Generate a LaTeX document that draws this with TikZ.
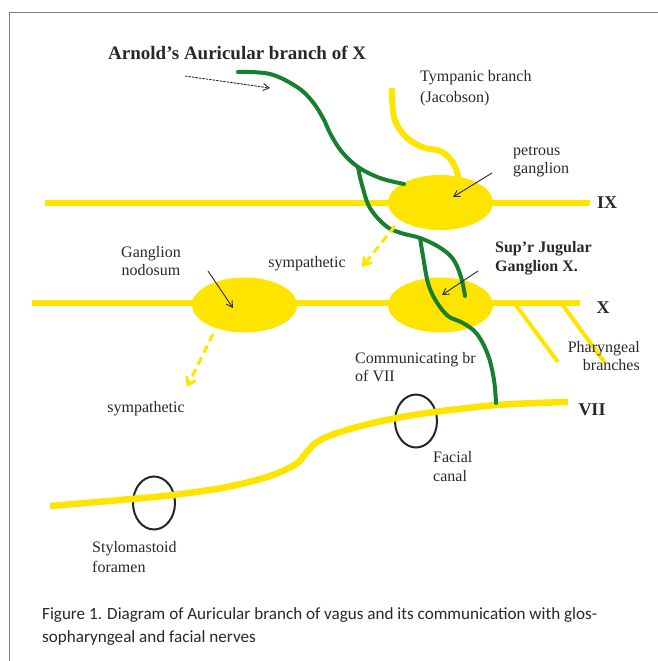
\documentclass[tikz,border=0pt]{standalone}
\usepackage{fontspec}
\setmainfont{Liberation Serif}
\newfontfamily\capfont{Carlito}
\usetikzlibrary{arrows.meta,shapes.geometric}

\definecolor{nerveyellow}{RGB}{255,228,0}
\definecolor{nervegreen}{RGB}{22,128,48}
\definecolor{inkgray}{RGB}{40,40,40}
\definecolor{framegray}{RGB}{125,125,125}

\tikzset{
  nerve/.style={draw=nerveyellow,line width=6pt},
  twig/.style={draw=nerveyellow,line width=4pt},
  vagal/.style={draw=nervegreen,line width=4pt,line cap=round},
  ganglion/.style={ellipse,fill=nerveyellow,inner sep=0pt,
    minimum width=105pt,minimum height=55pt},
  foramen/.style={ellipse,draw=black!85,line width=2pt,inner sep=0pt,
    minimum width=42pt,minimum height=53pt},
  pointer/.style={draw=inkgray,line width=0.9pt,
    -{Straight Barb[length=6pt,width=7pt]}},
  symp/.style={draw=nerveyellow,line width=3pt,dash pattern=on 8pt off 5pt,
    -{Straight Barb[length=7pt,width=10pt,line width=3pt]}},
  lbl/.style={text=inkgray,inner sep=0pt,font=\fontsize{16}{18}\selectfont},
  blbl/.style={lbl,font=\fontsize{16}{19}\selectfont\bfseries},
  nlbl/.style={text=inkgray,inner sep=0pt,font=\fontsize{18}{18}\selectfont\bfseries},
}

\begin{document}
\begin{tikzpicture}[x=1pt,y=-1pt]
\useasboundingbox (0,0) rectangle (658,661);

% open frame: top and left rules
\coordinate (frTL) at (9,13);
\coordinate (frTR) at (658,13);
\coordinate (frBL) at (9,661);
\draw[framegray,line width=1pt] (frTR) -- (frTL) -- (frBL);

% ---------- yellow nerve trunks ----------
\coordinate (ixL) at (45,203);
\coordinate (ixR) at (590,203);
\draw[nerve] (ixL) -- (ixR);

\coordinate (xL) at (32,303);
\coordinate (xR) at (580,303);
\draw[nerve] (xL) -- (xR);

% pharyngeal branches
\coordinate (ph1a) at (515,304);
\coordinate (ph1b) at (558,362);
\coordinate (ph2a) at (562,304);
\coordinate (ph2b) at (605,363);
\draw[twig] (ph1a) -- (ph1b);
\draw[twig] (ph2a) -- (ph2b);

% tympanic branch (Jacobson)
\coordinate (tymS) at (392,88);
\coordinate (tymE) at (458,182);
\draw[nerve] plot[smooth,tension=0.6] coordinates
  {(tymS) (394,117) (405,136) (422,147) (440,151) (451,160) (457,172) (tymE)};

% ---------- ganglia ----------
\node[ganglion] (petrous) at (440.5,202.5) {};
\node[ganglion] (nodosum) at (244.5,305) {};
\node[ganglion] (jugular) at (440.5,305) {};

% ---------- canal outlines, under the facial nerve ----------
\node[foramen] (canal) at (416,421) {};
\node[foramen] (stylo) at (154,503) {};

% facial nerve (VII)
\coordinate (viiL) at (50,506);
\coordinate (viiR) at (568,402);
\draw[nerve,line width=6.5pt] plot[smooth,tension=0.55] coordinates
  {(viiL) (120,500) (173,495) (227,487) (270,476) (296,464) (306,453)
   (317,442) (337,433) (373,423) (420,414) (497,405) (viiR)};

% ---------- auricular branch of the vagus (green) ----------
\coordinate (arnS) at (238,72);
\coordinate (split) at (358,167);
\coordinate (loop) at (420,238);
\coordinate (jugE) at (465,296);
\coordinate (viiJ) at (496,403);
\draw[vagal] plot[smooth,tension=0.6] coordinates
  {(arnS) (270,74) (297,87) (312,101) (323,118) (331,135) (342,152)
   (split) (380,178) (404,184)};
\draw[vagal] plot[smooth,tension=0.6] coordinates
  {(split) (362,185) (370,208) (386,226) (401,233) (loop) (439,247)
   (453,259) (461,277) (jugE)};
\draw[vagal] plot[smooth,tension=0.6] coordinates
  {(loop) (423,256) (428,283) (436,301) (448,316) (463,323) (477,334)
   (488,355) (494,380) (viiJ)};

% ---------- sympathetic branches ----------
\coordinate (sy1a) at (395,226);
\coordinate (sy1b) at (362,267);
\draw[symp] (sy1a) -- (sy1b);
\coordinate (sy2a) at (213,334);
\coordinate (sy2b) at (187,387);
\draw[symp] (sy2a) -- (sy2b);

% ---------- pointers ----------
\coordinate (arnP) at (185,76);
\coordinate (arnQ) at (270,88);
\draw[pointer,dash pattern=on 2.5pt off 1pt] (arnP) -- (arnQ);
\coordinate (petP) at (492,173);
\coordinate (petQ) at (453,197);
\draw[pointer] (petP) -- (petQ);
\coordinate (jugP) at (478,271);
\coordinate (jugQ) at (442,295);
\draw[pointer] (jugP) -- (jugQ);
\coordinate (nodP) at (208,271);
\coordinate (nodQ) at (233,308);
\draw[pointer] (nodP) -- (nodQ);

% ---------- labels ----------
\node[text=inkgray,inner sep=0pt,anchor=west,
  font=\fontsize{19}{19}\selectfont\bfseries] (title) at (108,53)
  {Arnold’s Auricular branch of X};
\node[lbl,anchor=west,align=left,font=\fontsize{16}{21}\selectfont]
  (tymL) at (420,88) {Tympanic branch\\(Jacobson)};
\node[lbl,anchor=west,align=left] (petL) at (513,162) {petrous\\ganglion};
\node[blbl,anchor=west,align=left] (jugL) at (495,258) {Sup’r Jugular\\Ganglion X.};
\node[lbl,align=center] (nodL) at (151,261) {Ganglion\\nodosum};
\node[lbl] (sym1) at (307,264) {sympathetic};
\node[lbl] (sym2) at (146,409) {sympathetic};
\node[lbl,anchor=west,align=left] (comL) at (355,367) {Communicating br\\of VII};
\node[lbl,anchor=east,align=right] (phL) at (640,356) {Pharyngeal\\branches};
\node[lbl,anchor=west,align=left,font=\fontsize{16}{19}\selectfont]
  (canL) at (433,467) {Facial\\canal};
\node[lbl,anchor=west,align=left,font=\fontsize{16}{20}\selectfont]
  (styL) at (92,557) {Stylomastoid\\foramen};
\node[nlbl] (ixN) at (607,203) {IX};
\node[nlbl] (xN) at (603,308) {X};
\node[nlbl] (viiN) at (592,410) {VII};

% ---------- caption ----------
\node[text=inkgray,inner sep=0pt,anchor=west,align=left,
  font=\capfont\fontsize{17.1}{23}\selectfont] (caption) at (42,627)
  {Figure 1. Diagram of Auricular branch of vagus and its communication with glos-\\
   sopharyngeal and facial nerves};
\end{tikzpicture}
\end{document}
